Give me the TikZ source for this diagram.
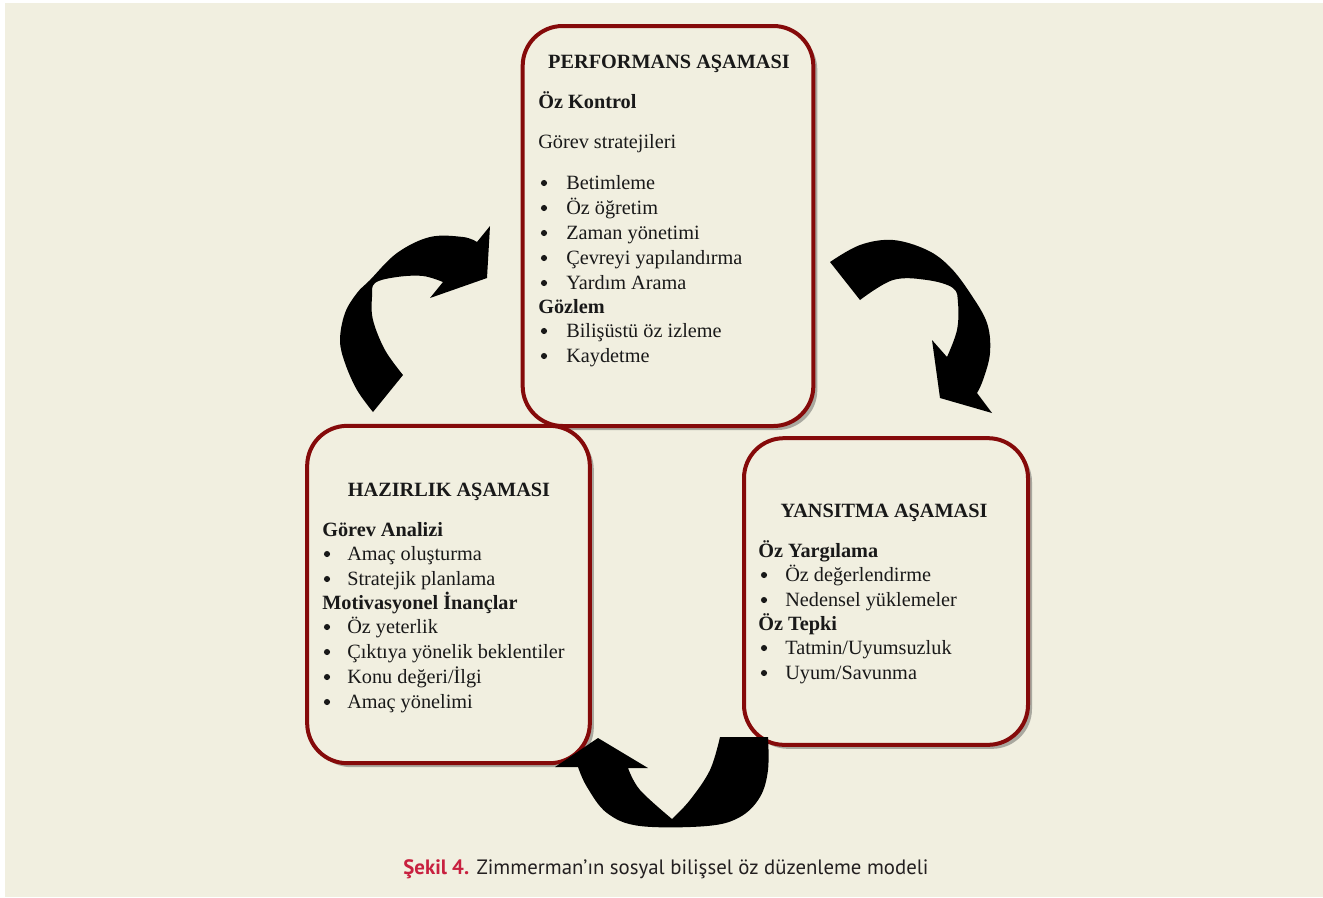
\documentclass[tikz,border=0pt]{standalone}
\usepackage{fontspec}
\setmainfont{Liberation Serif}
\newfontfamily\capfont{PT Sans}
\usetikzlibrary{shadows}
\definecolor{bgc}{HTML}{F1EFE0}
\definecolor{boxred}{HTML}{850A0A}
\definecolor{shadowc}{HTML}{A9A89F}
\definecolor{capred}{HTML}{C8203F}
\definecolor{captxt}{HTML}{231F20}
\tikzset{
  phase/.style={draw=boxred, line width=3pt, rounded corners=30pt, fill=bgc,
    drop shadow={shadow xshift=3pt, shadow yshift=-3pt, fill=shadowc, opacity=1}},
  txt/.style={anchor=base west, inner sep=0pt, font=\fontsize{15.2}{18}\selectfont, text=black!90},
  head/.style={txt, font=\fontsize{15.2}{18}\selectfont\bfseries},
  ttl/.style={anchor=base, inner sep=0pt, font=\fontsize{15.2}{18}\selectfont\bfseries, text=black!90},
  bul/.style={circle, fill=black!90, inner sep=0pt, minimum size=4.6pt},
  blk/.style={fill=black}
}
\begin{document}
\begin{tikzpicture}[x=0.75pt,y=-0.75pt]
\useasboundingbox (0,0) rectangle (1323,897);
\fill[white] (0,0) rectangle (1323,897);
\fill[bgc] (5,3) rectangle (1323,897);

% boxes
\node[phase, minimum width=218pt, minimum height=300pt] (perf) at (668,226) {};
\node[phase, minimum width=212pt, minimum height=253pt] (haz) at (448.5,594.5) {};
\node[phase, minimum width=213pt, minimum height=230pt] (yans) at (886,591.5) {};

% performans text
\node[ttl] (pt) at (669,68) {PERFORMANS AŞAMASI};
\node[head] (p1) at (538,108) {Öz Kontrol};
\node[txt] (p2) at (538,148) {Görev stratejileri};
\foreach \t/\y [count=\i] in {{Betimleme}/189, {Öz öğretim}/214, {Zaman yönetimi}/239, {Çevreyi yapılandırma}/264, {Yardım Arama}/289}{
  \node[bul] (pb\i) at (544,\y-6) {};
  \node[txt] (pl\i) at (566,\y) {\t};
}
\node[head] (p3) at (538,313) {Gözlem};
\foreach \t/\y [count=\i] in {{Bilişüstü öz izleme}/337, {Kaydetme}/362}{
  \node[bul] (pc\i) at (544,\y-6) {};
  \node[txt] (pm\i) at (566,\y) {\t};
}

% hazirlik text
\node[ttl] (ht) at (449,496) {HAZIRLIK AŞAMASI};
\node[head] (h1) at (322,536) {Görev Analizi};
\foreach \t/\y [count=\i] in {{Amaç oluşturma}/560, {Stratejik planlama}/585}{
  \node[bul] (hb\i) at (327,\y-6) {};
  \node[txt] (hl\i) at (347,\y) {\t};
}
\node[head] (h2) at (322,609) {Motivasyonel İnançlar};
\foreach \t/\y [count=\i] in {{Öz yeterlik}/633, {Çıktıya yönelik beklentiler}/658, {Konu değeri/İlgi}/683, {Amaç yönelimi}/708}{
  \node[bul] (hc\i) at (327,\y-6) {};
  \node[txt] (hm\i) at (347,\y) {\t};
}

% yansitma text
\node[ttl] (yt) at (884,517) {YANSITMA AŞAMASI};
\node[head] (y1) at (758,557) {Öz Yargılama};
\foreach \t/\y [count=\i] in {{Öz değerlendirme}/581, {Nedensel yüklemeler}/606}{
  \node[bul] (yb\i) at (764,\y-6) {};
  \node[txt] (yl\i) at (785,\y) {\t};
}
\node[head] (y2) at (758,630) {Öz Tepki};
\foreach \t/\y [count=\i] in {{Tatmin/Uyumsuzluk}/654, {Uyum/Savunma}/679}{
  \node[bul] (yc\i) at (764,\y-6) {};
  \node[txt] (ym\i) at (785,\y) {\t};
}

% arrows
\fill[blk] plot[smooth, tension=0.6] coordinates {(373,412) (357,390) (345,363) (340,340) (345,313) (357,293) (370,280) (397,253) (430,237) (463,237) (477,242)}
  -- (490,226) -- (487,278) -- (430,298) -- (443,282)
  -- plot[smooth, tension=0.6] coordinates {(443,282) (423,276) (397,277) (375,283) (372,297) (373,320) (385,350) (403,375)} -- cycle;

\fill[blk] plot[smooth, tension=0.6] coordinates {(830,262) (860,245) (893,240) (927,250) (950,267) (970,293) (987,323) (990,353) (983,380) (977,393)}
  -- (992,413) -- (940,398) -- (932,340) -- (947,357)
  -- plot[smooth, tension=0.6] coordinates {(947,357) (957,330) (958,303) (953,288) (927,280) (893,280) (860,300)} -- cycle;

\fill[blk] (720,737) -- plot[smooth, tension=0.6] coordinates {(768,737) (768,770) (760,797) (740,817) (707,826) (640,826) (607,813) (587,787) (578,767)}
  -- (555,767) -- (598,738) -- (648,768) -- (628,768)
  -- plot[smooth, tension=0.6] coordinates {(628,768) (640,790) (672,819)}
  -- plot[smooth, tension=0.6] coordinates {(672,819) (690,800) (710,770) (720,737)} -- cycle;

% caption
\node[anchor=base, inner sep=0pt, font=\capfont\fontsize{15.6}{18}\selectfont, text=captxt] (cap) at (666,874)
  {\textcolor{capred}{\bfseries Şekil 4.} Zimmerman’ın sosyal bilişsel öz düzenleme modeli};
\end{tikzpicture}
\end{document}
